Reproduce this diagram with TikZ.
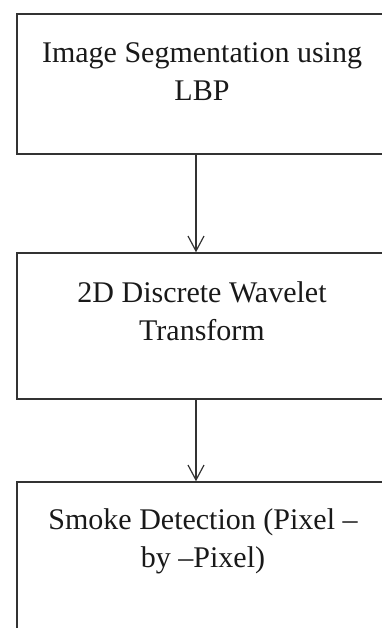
\documentclass[tikz,border=0pt]{standalone}
\usepackage{fontspec}
\setmainfont{Liberation Serif}
\usetikzlibrary{arrows.meta}
\begin{document}
\begin{tikzpicture}[x=1pt,y=-1pt,
  box/.style={draw=black!80,line width=1.4pt,rectangle,inner sep=0pt,minimum width=368pt},
  txt/.style={align=center,font=\fontsize{30}{38}\selectfont,text=black!90,inner sep=0pt},
  flow/.style={draw=black!80,line width=1.2pt,-{Straight Barb[length=15pt,width=16pt,line width=1.2pt]}}]
\useasboundingbox (0,0) rectangle (382,628);
\clip (0,0) rectangle (382,628);
\node[box,minimum height=140pt] (b1) at (201,84) {};
\node[box,minimum height=146pt] (b2) at (201,326) {};
\node[box,minimum height=220pt] (b3) at (201,592) {};
\node[txt] (t1) at (202,72) {Image Segmentation using\\LBP};
\node[txt] (t2) at (202,311) {2D Discrete Wavelet\\Transform};
\node[txt] (t3) at (203,541) {Smoke Detection (Pixel –\\by –Pixel)};
\coordinate (ax) at (196,0);
\draw[flow] (b1.south -| ax) -- (b2.north -| ax);
\draw[flow] (b2.south -| ax) -- (b3.north -| ax);
\end{tikzpicture}
\end{document}
